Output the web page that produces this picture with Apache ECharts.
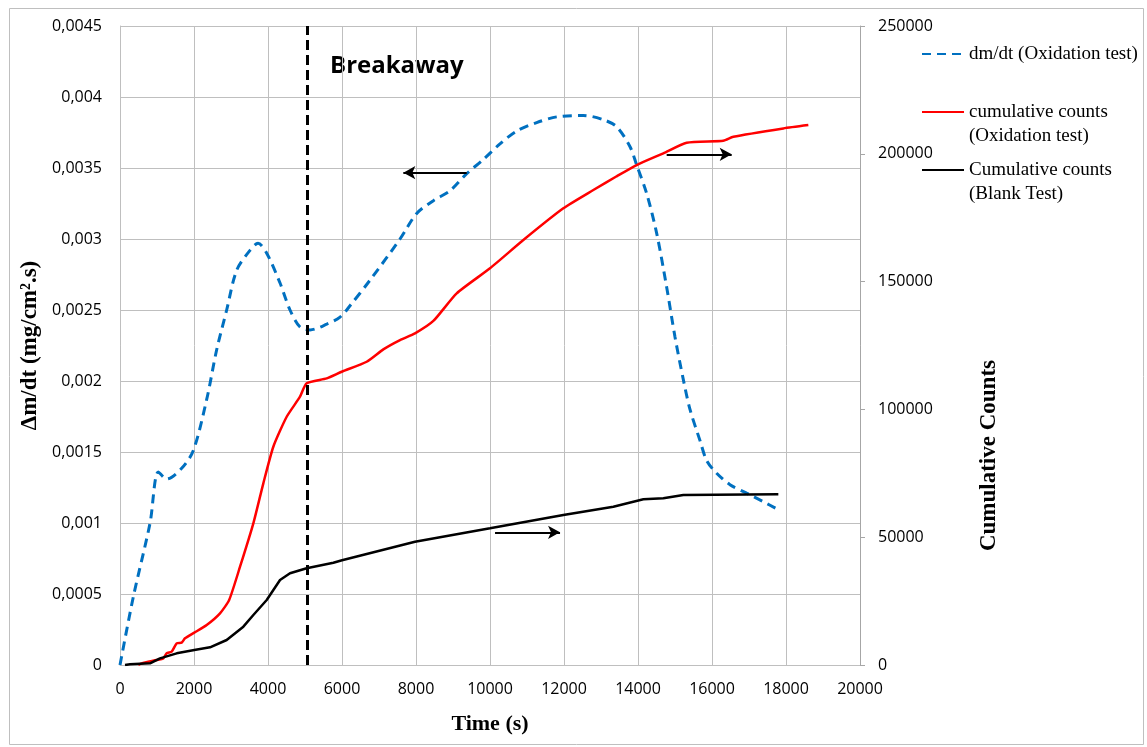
<!DOCTYPE html>
<html>
<head>
<meta charset="utf-8">
<script src="https://cdn.jsdelivr.net/npm/echarts@6/dist/echarts.min.js"></script>
<style>html,body{margin:0;padding:0;background:#fff;}#c{width:1147px;height:747px;}</style>
</head>
<body>
<div id="c"></div>
<script>
// ---- data ----
const xTicks = [0, 2000, 4000, 6000, 8000, 10000, 12000, 14000, 16000, 18000, 20000];
const leftTicks = [0, 0.0005, 0.001, 0.0015, 0.002, 0.0025, 0.003, 0.0035, 0.004, 0.0045];
const rightTicks = [0, 50000, 100000, 150000, 200000, 250000];

const dmdtTime = [0, 360, 811, 1036, 1262, 1667, 1982, 2343, 2613, 2883, 3154, 3514, 3730, 3965, 4325, 4595, 4866, 5136, 5587, 5947, 6216, 6757, 7568, 8019, 8469, 8919, 9370, 9820, 10270, 10721, 11262, 11802, 12523, 13064, 13424, 13785, 13965, 14235, 14505, 14775, 15000, 15225, 15405, 15676, 15856, 16126, 16486, 16937, 17387, 17748];
const dmdtValue = [0, 0.00048, 0.000998, 0.00136, 0.00131, 0.001385, 0.00151, 0.00187, 0.00222, 0.0025, 0.00278, 0.00292, 0.00297, 0.0029, 0.00269, 0.0025, 0.00238, 0.00236, 0.0024, 0.00245, 0.00253, 0.00271, 0.0030, 0.00318, 0.00327, 0.00334, 0.00346, 0.00356, 0.00367, 0.00376, 0.00382, 0.00386, 0.00387, 0.00384, 0.00379, 0.00365, 0.00352, 0.00332, 0.00304, 0.00266, 0.00231, 0.00201, 0.0018, 0.00158, 0.00144, 0.00135, 0.00127, 0.00121, 0.00115, 0.0011];

const oxTime = [495, 586, 991, 1171, 1262, 1397, 1532, 1667, 1757, 2009, 2343, 2703, 2950, 3244, 3604, 3874, 4144, 4505, 4865, 5045, 5587, 5992, 6667, 7117, 7568, 7973, 8469, 9100, 10000, 10901, 11982, 12793, 13424, 13965, 14685, 15315, 16306, 16577, 17928, 18604];
const oxCounts = [0, 650, 1960, 2600, 4560, 5220, 8480, 8740, 10430, 12650, 15650, 20220, 25430, 38450, 55430, 71080, 85400, 97130, 104960, 110200, 112150, 114740, 118650, 123500, 127140, 129760, 134600, 145400, 155200, 166260, 178660, 185820, 191200, 195600, 200180, 204330, 205110, 206680, 209940, 211250];

const blankTime = [135, 270, 811, 1081, 1532, 2009, 2433, 2883, 3334, 3604, 3965, 4325, 4595, 5045, 5767, 6000, 7973, 10000, 11982, 13333, 14144, 14685, 15225, 17793];
const blankCounts = [0, 270, 650, 2600, 4560, 5870, 6910, 9780, 15000, 19560, 25430, 33250, 35870, 37830, 40000, 41000, 48230, 53480, 58680, 61930, 64820, 65210, 66500, 66780];

const breakawayTime = 5050;
const seriesNames = ['dm/dt (Oxidation test)', 'cumulative counts\n(Oxidation test)', 'Cumulative counts\n(Blank Test)'];

// ---- chart ----
const pairs = (xs, ys) => xs.map((x, i) => [x, ys[i]]);
const gridColor = '#bfbfbf';
const tickFont = { fontFamily: 'Open Sans', fontSize: 16, color: '#000' };
const arrowStyle = { color: '#000', width: 2, type: 'solid' };

const chart = echarts.init(document.getElementById('c'), null, { renderer: 'canvas' });
chart.setOption({
  animation: false,
  backgroundColor: '#fff',
  grid: { left: 120, right: 287, top: 26, bottom: 82, containLabel: false },
  legend: {
    orient: 'vertical', left: 921, top: 18, padding: 0,
    itemWidth: 42, itemHeight: 14, itemGap: -14,
    data: seriesNames,
    itemStyle: { opacity: 0 },
    textStyle: { fontFamily: 'Liberation Serif', fontSize: 19, lineHeight: 24, color: '#000' },
    formatter: function (n) { return n.indexOf('\n') >= 0 ? '\n' + n : '\n' + n + '\n '; }
  },
  xAxis: {
    type: 'value', min: xTicks[0], max: xTicks[xTicks.length - 1], interval: 2000,
    name: 'Time (s)', nameLocation: 'middle', nameGap: 48,
    nameTextStyle: { fontFamily: 'Liberation Serif', fontWeight: 'bold', fontSize: 22, color: '#000' },
    axisLine: { show: true, lineStyle: { color: gridColor, width: 1 } },
    axisTick: { show: false },
    axisLabel: Object.assign({ margin: 16, formatter: v => String(v) }, tickFont),
    splitLine: { show: true, lineStyle: { color: gridColor, width: 1 } }
  },
  yAxis: [
    {
      type: 'value', min: leftTicks[0], max: leftTicks[leftTicks.length - 1], interval: 0.0005, position: 'left',
      name: 'Δm/dt (mg/cm².s)', nameLocation: 'middle', nameGap: 66, nameRotate: 90,
      nameTextStyle: { fontFamily: 'Liberation Serif', fontWeight: 'bold', fontSize: 23, color: '#000' },
      axisLine: { show: true, lineStyle: { color: gridColor, width: 1 } },
      axisTick: { show: false },
      axisLabel: Object.assign({ margin: 18, formatter: v => String(+v.toFixed(4)).replace('.', ',') }, tickFont),
      splitLine: { show: true, lineStyle: { color: gridColor, width: 1 } }
    },
    {
      type: 'value', min: rightTicks[0], max: rightTicks[rightTicks.length - 1], interval: 50000, position: 'right',
      name: 'Cumulative Counts', nameLocation: 'middle', nameGap: 118, nameRotate: 90,
      nameTextStyle: { fontFamily: 'Liberation Serif', fontWeight: 'bold', fontSize: 23, color: '#000', padding: [0, 220, 0, 0] },
      axisLine: { show: true, lineStyle: { color: '#a6a6a6', width: 1 } },
      axisTick: { show: true, length: 5, lineStyle: { color: '#a6a6a6' } },
      axisLabel: Object.assign({ margin: 18, formatter: v => String(v) }, tickFont),
      splitLine: { show: false }
    }
  ],
  series: [
    {
      name: seriesNames[0], type: 'line', yAxisIndex: 0, symbol: 'none', smooth: 0.3,
      lineStyle: { color: '#0070c0', width: 3, type: [9, 6] }, itemStyle: { color: '#0070c0' },
      data: pairs(dmdtTime, dmdtValue), z: 3,
      markLine: {
        silent: true, symbol: ['none', 'arrow'], symbolSize: [10, 12], label: { show: false },
        lineStyle: arrowStyle,
        data: [[{ coord: [9370, 0.003467] }, { coord: [7658, 0.003467] }]]
      }
    },
    {
      name: seriesNames[1], type: 'line', yAxisIndex: 1, symbol: 'none', smooth: 0.2,
      lineStyle: { color: '#ff0000', width: 2.5 }, itemStyle: { color: '#ff0000' },
      data: pairs(oxTime, oxCounts), z: 4,
      markLine: {
        silent: true, symbol: ['none', 'arrow'], symbolSize: [10, 12], label: { show: false },
        lineStyle: arrowStyle,
        data: [[{ coord: [14775, 199800] }, { coord: [16532, 199800] }]]
      }
    },
    {
      name: seriesNames[2], type: 'line', yAxisIndex: 1, symbol: 'none',
      lineStyle: { color: '#000000', width: 2.5 }, itemStyle: { color: '#000000' },
      data: pairs(blankTime, blankCounts), z: 4,
      markLine: {
        silent: true, symbol: ['none', 'arrow'], symbolSize: [10, 12], label: { show: false },
        lineStyle: arrowStyle,
        data: [[{ coord: [10136, 51910] }, { coord: [11893, 51910] }]]
      }
    },
    {
      name: 'breakaway', type: 'line', yAxisIndex: 0, data: [], z: 5,
      markLine: {
        silent: true, symbol: ['none', 'none'], label: { show: false },
        lineStyle: { color: '#000', width: 3, type: [10, 5] },
        data: [{ xAxis: breakawayTime }]
      }
    }
  ],
  graphic: [
    { type: 'rect', left: 7, top: 6, shape: { width: 1134, height: 736 }, style: { fill: 'none', stroke: '#bfbfbf', lineWidth: 1 }, silent: true, z: -10 },
    { type: 'text', left: 330, top: 54, style: { text: 'Breakaway', fontFamily: 'Open Sans', fontWeight: 'bold', fontSize: 24, fill: '#000' } }
  ]
});
</script>
</body>
</html>
